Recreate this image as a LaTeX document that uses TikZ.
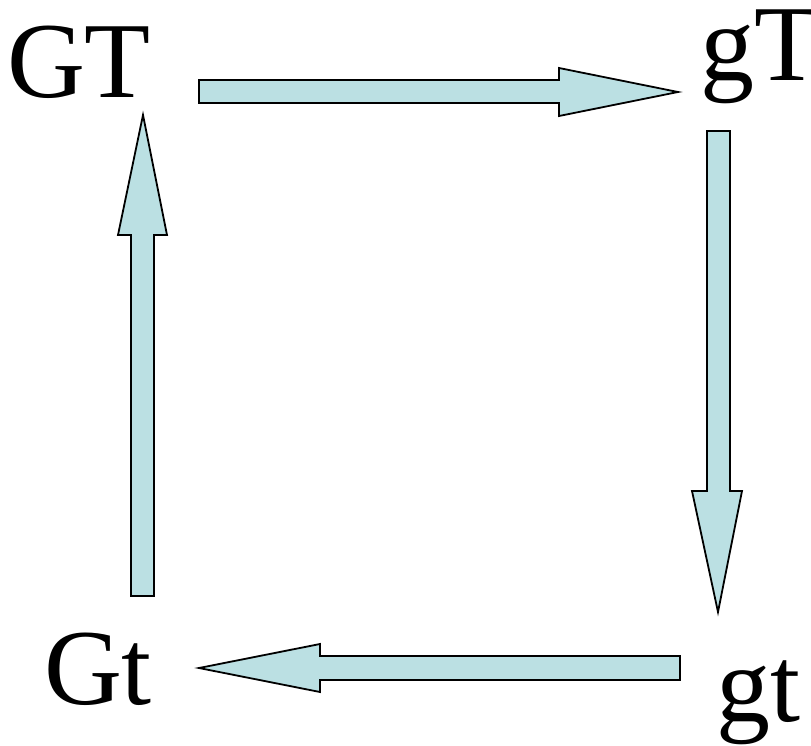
\documentclass[tikz,border=0pt]{standalone}
\usepackage{fontspec}
\setmainfont{Liberation Serif}
\definecolor{arrowfill}{HTML}{BBE0E3}
\begin{document}
\begin{tikzpicture}[x=1pt,y=-1pt,
  lbl/.style={anchor=base west,inner sep=0pt,outer sep=0pt,font=\fontsize{108}{112}\selectfont},
  blockarrow/.style={draw=black,fill=arrowfill,line width=1.8pt,line join=miter}]
\useasboundingbox (0,0) rectangle (811,745);
\node[lbl] (GT) at (7,97) {GT};
\node[lbl] (gT) at (700,80) {gT};
\node[lbl] (Gt) at (44,704) {Gt};
\node[lbl] (gt) at (716,721) {gt};
% top arrow GT -> gT
\draw[blockarrow] (199,80) -- (559,80) -- (559,68) -- (678,92) -- (559,116) -- (559,103) -- (199,103) -- cycle;
% right arrow gT -> gt
\draw[blockarrow] (707,131) -- (730,131) -- (730,491) -- (742,491) -- (718,612) -- (692,491) -- (707,491) -- cycle;
% bottom arrow gt -> Gt
\draw[blockarrow] (680,656) -- (320,656) -- (320,644) -- (199,668) -- (320,692) -- (320,680) -- (680,680) -- cycle;
% left arrow Gt -> GT
\draw[blockarrow] (131,596) -- (131,235) -- (118,235) -- (143,115) -- (167,235) -- (154,235) -- (154,596) -- cycle;
\end{tikzpicture}
\end{document}
